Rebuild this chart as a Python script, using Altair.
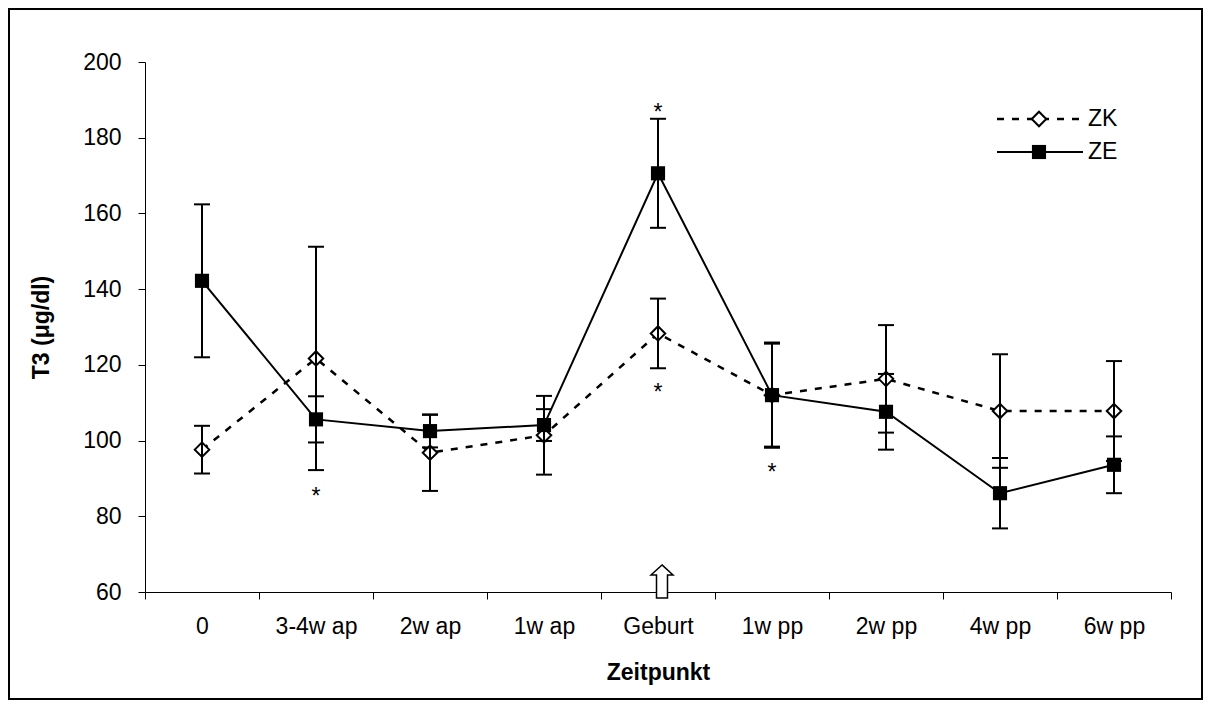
import altair as alt
import pandas as pd

# ---- data ----
cats = ["0", "3-4w ap", "2w ap", "1w ap", "Geburt", "1w pp", "2w pp", "4w pp", "6w pp"]
zk_mean = [97.6, 121.7, 96.8, 101.4, 128.3, 112.0, 116.3, 107.8, 107.8]
zk_err = [6.3, 29.5, 10.1, 10.4, 9.2, 13.6, 14.2, 15.0, 13.2]
ze_mean = [142.2, 105.6, 102.5, 104.1, 170.6, 112.0, 107.6, 86.1, 93.6]
ze_err = [20.2, 6.1, 4.3, 4.2, 14.4, 13.9, 10.0, 9.3, 7.5]
star_cats = ["3-4w ap", "Geburt", "Geburt", "1w pp"]
star_vals = [86.6, 188.1, 114.2, 93.0]
y_ticks = [60, 80, 100, 120, 140, 160, 180, 200]
arrow_cat = ["Geburt"]
arrow_val = [62.8]
series_names = ["ZK", "ZE"]

FONT = "Liberation Sans"
FS = 23

rows = []
for s, means, errs in (("ZK", zk_mean, zk_err), ("ZE", ze_mean, ze_err)):
    for c, m, e in zip(cats, means, errs):
        rows.append({"cat": c, "series": s, "mean": m, "lo": m - e, "hi": m + e})
df = pd.DataFrame(rows)
zk = df[df.series == "ZK"]
ze = df[df.series == "ZE"]
stars = pd.DataFrame({"cat": star_cats, "v": star_vals, "t": ["*"] * len(star_cats)})
arrow = pd.DataFrame({"cat": arrow_cat, "v": arrow_val})

x_enc = alt.X(
    "cat:N",
    sort=cats,
    scale=alt.Scale(type="band", domain=cats, paddingInner=0, paddingOuter=0),
    axis=alt.Axis(
        title="Zeitpunkt",
        labelAngle=0,
        tickBand="extent",
        tickSize=7,
        tickColor="black",
        domainColor="black",
        labelPadding=16,
        titlePadding=23,
        grid=False,
    ),
)
y_scale = alt.Scale(domain=[60, 200], nice=False, zero=False)
y_axis = alt.Axis(
    title="T3 (μg/dl)",
    values=y_ticks,
    tickSize=7,
    tickColor="black",
    domainColor="black",
    labelPadding=17,
    titlePadding=29,
    grid=False,
)
y_enc = alt.Y("mean:Q", scale=y_scale, axis=y_axis)

zk_line = alt.Chart(zk).mark_line(color="black", strokeWidth=2.5, strokeDash=[7, 8]).encode(x=x_enc, y=y_enc)
ze_line = alt.Chart(ze).mark_line(color="black", strokeWidth=2).encode(x=x_enc, y=y_enc)

zk_pts = alt.Chart(zk).mark_point(
    shape="diamond", size=210, filled=True, fill="white", stroke="black", strokeWidth=2, opacity=1
).encode(x=x_enc, y=y_enc)
ze_pts = alt.Chart(ze).mark_point(
    shape="square", size=200, filled=True, fill="black", opacity=1
).encode(x=x_enc, y=y_enc)

err_rule = alt.Chart(df).mark_rule(color="black", strokeWidth=2).encode(
    x=x_enc, y=alt.Y("lo:Q", scale=y_scale), y2="hi:Q"
)
cap_lo = alt.Chart(df).mark_tick(color="black", orient="horizontal", size=16, thickness=2, opacity=1).encode(
    x=x_enc, y=alt.Y("lo:Q", scale=y_scale)
)
cap_hi = alt.Chart(df).mark_tick(color="black", orient="horizontal", size=16, thickness=2, opacity=1).encode(
    x=x_enc, y=alt.Y("hi:Q", scale=y_scale)
)

star_txt = alt.Chart(stars).mark_text(
    font=FONT, fontSize=FS, color="black", baseline="alphabetic", dy=13
).encode(x=x_enc, y=alt.Y("v:Q", scale=y_scale), text="t:N")

arrow_path = "M0,-1 L0.667,-0.39 L0.333,-0.39 L0.333,1 L-0.333,1 L-0.333,-0.39 L-0.667,-0.39 Z"
arrow_mark = alt.Chart(arrow).mark_point(
    shape=arrow_path, size=1089, filled=True, fill="white", stroke="black", strokeWidth=1.5,
    opacity=1, xOffset=4,
).encode(x=x_enc, y=alt.Y("v:Q", scale=y_scale))

# ---- legend (Excel style, drawn in pixel space) ----
one = pd.DataFrame({"k": [0]})
leg_layers = []
for i, name in enumerate(series_names):
    ly = 57 + i * 33
    if name == "ZK":
        ln = alt.Chart(one).mark_rule(color="black", strokeWidth=2.5, strokeDash=[7, 8])
        pt = alt.Chart(one).mark_point(shape="diamond", size=210, filled=True, fill="white",
                                        stroke="black", strokeWidth=2, opacity=1)
    else:
        ln = alt.Chart(one).mark_rule(color="black", strokeWidth=2)
        pt = alt.Chart(one).mark_point(shape="square", size=200, filled=True, fill="black", opacity=1)
    leg_layers.append(ln.encode(x=alt.value(852), x2=alt.value(938), y=alt.value(ly)))
    leg_layers.append(pt.encode(x=alt.value(894), y=alt.value(ly)))
    leg_layers.append(
        alt.Chart(pd.DataFrame({"t": [name]})).mark_text(
            font=FONT, fontSize=FS, color="black", align="left", baseline="middle"
        ).encode(x=alt.value(943), y=alt.value(ly), text="t:N")
    )

border = alt.Chart(one).mark_rect(fillOpacity=0, stroke="black", strokeWidth=2).encode(
    x=alt.value(-136), x2=alt.value(1057), y=alt.value(-53), y2=alt.value(637)
)

chart = alt.layer(
    zk_line, ze_line, zk_pts, ze_pts, err_rule, cap_lo, cap_hi, star_txt, arrow_mark,
    *leg_layers, border
).properties(
    width=1026,
    height=530,
    padding={"left": 137, "top": 54, "right": 32, "bottom": 109},
    autosize=alt.AutoSizeParams(type="none"),
    background="white",
).configure_view(
    stroke=None
).configure_axis(
    labelFont=FONT, labelFontSize=FS, labelColor="black",
    titleFont=FONT, titleFontSize=FS, titleColor="black", titleFontWeight="bold",
    domainWidth=1, tickWidth=1,
)

chart.save("out.html", embed_options={"renderer": "svg", "actions": False})
